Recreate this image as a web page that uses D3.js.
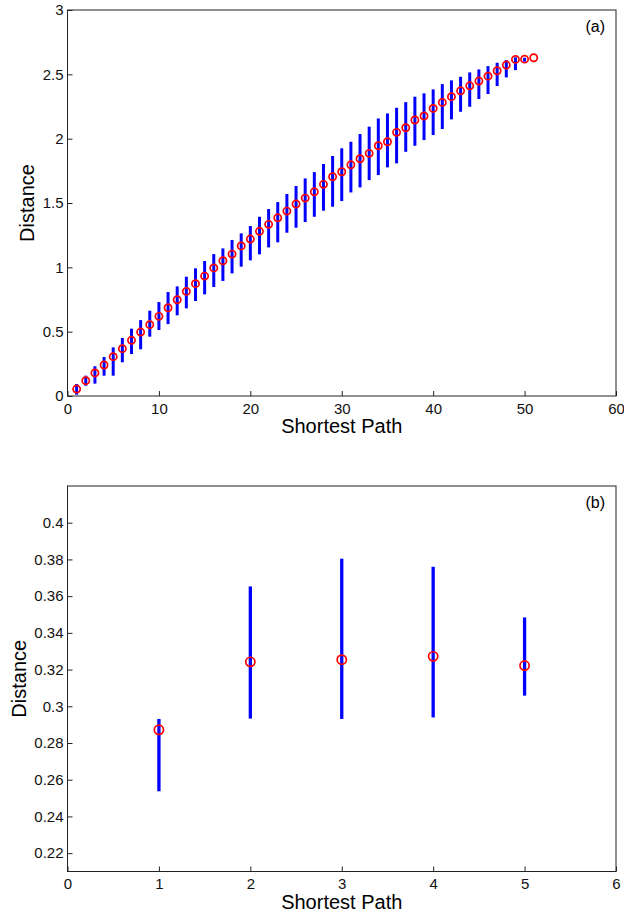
<!DOCTYPE html>
<html>
<head>
<meta charset="utf-8">
<script src="https://cdn.jsdelivr.net/npm/d3@7"></script>
<style>
  body { margin: 0; background: #fff; }
  svg { display: block; font-family: "Liberation Sans", Arial, sans-serif; }
</style>
</head>
<body>
<svg id="chart" width="624" height="915"></svg>
<script>
// panel (a): shortest path 1..51, mean distance and spread
const pathA = d3.range(1, 52);
const meanA = [0.054, 0.119, 0.179, 0.241, 0.306, 0.368, 0.433, 0.497, 0.554, 0.619,
    0.686, 0.748, 0.813, 0.873, 0.932, 0.995, 1.051, 1.103, 1.166, 1.220,
    1.280, 1.334, 1.385, 1.437, 1.492, 1.538, 1.587, 1.645, 1.704, 1.743,
    1.797, 1.844, 1.886, 1.945, 1.976, 2.049, 2.085, 2.145, 2.176, 2.235,
    2.282, 2.326, 2.372, 2.411, 2.448, 2.486, 2.528, 2.572, 2.616, 2.618, 2.629];
const lowA = [0.010, 0.080, 0.096, 0.158, 0.158, 0.262, 0.326, 0.363, 0.461, 0.513,
    0.559, 0.627, 0.681, 0.738, 0.790, 0.847, 0.894, 0.953, 1.005, 1.054,
    1.101, 1.155, 1.194, 1.269, 1.308, 1.352, 1.393, 1.440, 1.471, 1.515,
    1.582, 1.621, 1.678, 1.717, 1.777, 1.808, 1.898, 1.945, 1.989, 2.028,
    2.075, 2.150, 2.209, 2.248, 2.308, 2.347, 2.409, 2.476, 2.533, 2.598, 2.629];
const highA = [0.093, 0.158, 0.231, 0.303, 0.378, 0.451, 0.523, 0.590, 0.663, 0.730,
    0.808, 0.852, 0.927, 0.992, 1.049, 1.103, 1.147, 1.212, 1.264, 1.321,
    1.393, 1.453, 1.507, 1.570, 1.632, 1.691, 1.740, 1.803, 1.865, 1.925,
    1.976, 2.036, 2.093, 2.157, 2.196, 2.240, 2.284, 2.326, 2.352, 2.383,
    2.424, 2.453, 2.481, 2.515, 2.538, 2.564, 2.590, 2.611, 2.632, 2.629, 2.629];

// panel (b): shortest path 1..5
const pathB = [1, 2, 3, 4, 5];
const meanB = [0.2872, 0.3242, 0.3254, 0.3272, 0.3222];
const lowB = [0.2537, 0.2933, 0.2931, 0.2939, 0.3058];
const highB = [0.2931, 0.3653, 0.3804, 0.3760, 0.3484];

const xTicksA = [0, 10, 20, 30, 40, 50, 60];
const yTicksA = [0, 0.5, 1, 1.5, 2, 2.5, 3];
const xTicksB = [0, 1, 2, 3, 4, 5, 6];
const yTicksB = [0.22, 0.24, 0.26, 0.28, 0.3, 0.32, 0.34, 0.36, 0.38, 0.4];

const svg = d3.select("#chart");

function drawPanel(opt) {
    const w = opt.right - opt.left;
    const h = opt.bottom - opt.top;
    const g = svg.append("g")
        .attr("transform", `translate(${opt.left}, ${opt.top})`);

    const x = d3.scaleLinear().domain(opt.xDomain).range([0, w]);
    const y = d3.scaleLinear().domain(opt.yDomain).range([h, 0]);

    // spread bars
    g.selectAll("line.bar")
        .data(opt.xs)
        .enter()
        .append("line")
        .attr("class", "bar")
        .attr("x1", d => x(d))
        .attr("x2", d => x(d))
        .attr("y1", (d, i) => y(opt.low[i]))
        .attr("y2", (d, i) => y(opt.high[i]))
        .attr("stroke", "#0000ff")
        .attr("stroke-width", opt.barWidth);

    // mean markers
    g.selectAll("circle")
        .data(opt.xs)
        .enter()
        .append("circle")
        .attr("cx", d => x(d))
        .attr("cy", (d, i) => y(opt.mean[i]))
        .attr("r", opt.r)
        .attr("fill", "none")
        .attr("stroke", "#ff0000")
        .attr("stroke-width", 1.7);

    const xAxis = d3.axisBottom(x)
        .tickValues(opt.xTicks)
        .tickSizeInner(-5)
        .tickSizeOuter(0)
        .tickPadding(7)
        .tickFormat(d3.format("d"));
    const yAxis = d3.axisLeft(y)
        .tickValues(opt.yTicks)
        .tickSizeInner(-5)
        .tickSizeOuter(0)
        .tickPadding(4)
        .tickFormat(d => String(+d.toFixed(2)));

    const xg = g.append("g").attr("transform", `translate(0, ${h})`).call(xAxis);
    const yg = g.append("g").call(yAxis);
    [xg, yg].forEach(a => {
        a.attr("font-size", 15).attr("font-family", "Liberation Sans, Arial, sans-serif");
        a.select(".domain").remove();
        a.selectAll(".tick line").attr("stroke", "#222");
        a.selectAll("text").attr("fill", "#111");
    });

    g.append("rect")
        .attr("width", w)
        .attr("height", h)
        .attr("fill", "none")
        .attr("stroke", "#222")
        .attr("stroke-width", 1);

    g.append("text")
        .attr("x", w / 2)
        .attr("y", h + 37)
        .attr("text-anchor", "middle")
        .attr("font-size", 20)
        .text("Shortest Path");

    g.append("text")
        .attr("transform", `translate(${opt.yLabelX - opt.left}, ${h / 2}) rotate(-90)`)
        .attr("text-anchor", "middle")
        .attr("font-size", 20)
        .text("Distance");

    g.append("text")
        .attr("x", w - 11)
        .attr("y", 22)
        .attr("text-anchor", "end")
        .attr("font-size", 16)
        .text(opt.tag);
}

drawPanel({
    left: 67.5, right: 616, top: 10, bottom: 396,
    xDomain: [0, 60], yDomain: [0, 3],
    xs: pathA, mean: meanA, low: lowA, high: highA,
    xTicks: xTicksA, yTicks: yTicksA,
    barWidth: 3, r: 3.6, yLabelX: 34, tag: "(a)"
});

drawPanel({
    left: 67.5, right: 616, top: 486, bottom: 871.5,
    xDomain: [0, 6], yDomain: [0.21, 0.42],
    xs: pathB, mean: meanB, low: lowB, high: highB,
    xTicks: xTicksB, yTicks: yTicksB,
    barWidth: 3.3, r: 4.6, yLabelX: 26, tag: "(b)"
});
</script>
</body>
</html>
